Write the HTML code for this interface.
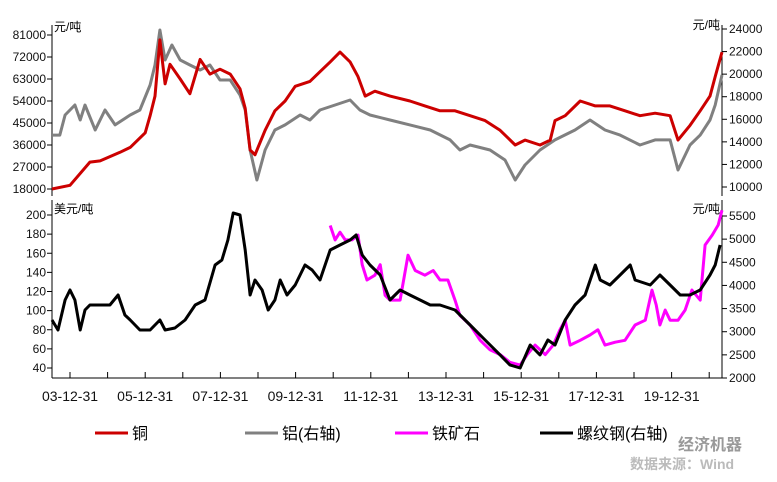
<!DOCTYPE html>
<html><head><meta charset="utf-8"><style>
body{margin:0;background:#fff;}
svg text{font-family:"Liberation Sans","Noto Sans CJK SC",sans-serif;}
</style></head><body>
<svg id="c" width="777" height="477" viewBox="0 0 777 477" xmlns="http://www.w3.org/2000/svg"></svg>
<script>
const cuDates=[2003.52,2004.0,2004.53,2004.8,2005.33,2005.6,2006.0,2006.13,2006.26,2006.39,2006.53,2006.66,2006.93,2007.19,2007.46,2007.72,2007.99,2008.26,2008.52,2008.66,2008.79,2008.92,2009.19,2009.45,2009.72,2009.99,2010.38,2010.65,2010.92,2011.18,2011.45,2011.66,2011.85,2012.11,2012.51,2013.04,2013.44,2013.84,2014.24,2014.64,2015.04,2015.44,2015.84,2016.1,2016.5,2016.77,2016.9,2017.17,2017.57,2017.97,2018.36,2018.76,2019.16,2019.56,2019.96,2020.17,2020.49,2020.76,2021.02,2021.16,2021.34];
const cuValues=[18000,19500,29000,29500,33000,35000,41000,48000,56000,79000,61000,69000,63000,57000,71000,65000,67000,65000,59000,51000,34000,32000,42000,50000,54000,60000,62000,66000,70000,74000,70000,64000,56000,58000,56000,54000,52000,50000,50000,48000,46000,42000,36000,38000,36000,38000,46000,48000,54000,52000,52000,50000,48000,49000,48000,38000,44000,50000,56000,64000,74000];
const alDates=[2003.52,2003.73,2003.87,2004.13,2004.27,2004.4,2004.67,2004.93,2005.2,2005.6,2005.86,2006.13,2006.26,2006.39,2006.53,2006.71,2006.93,2007.19,2007.46,2007.72,2007.99,2008.26,2008.52,2008.66,2008.79,2008.97,2009.19,2009.45,2009.72,2010.12,2010.38,2010.65,2011.05,2011.45,2011.71,2011.98,2012.51,2013.04,2013.58,2014.11,2014.37,2014.64,2015.17,2015.57,2015.84,2016.1,2016.5,2016.9,2017.43,2017.83,2018.23,2018.63,2019.16,2019.56,2019.96,2020.17,2020.49,2020.76,2021.02,2021.16,2021.34];
const alValues=[14600,14600,16380,17270,15940,17270,15050,16820,15500,16380,16820,19040,20810,23910,21250,22580,21250,20810,20370,20810,19480,19480,18150,16820,13280,10620,13280,15050,15500,16380,15940,16820,17270,17710,16820,16380,15940,15500,15050,14170,13280,13720,13280,12390,10620,11950,13280,14170,15050,15940,15050,14600,13720,14170,14170,11510,13720,14600,15940,17270,19920];
const oreDates=[2010.92,2011.05,2011.18,2011.32,2011.5,2011.66,2011.77,2011.9,2012.11,2012.25,2012.38,2012.51,2012.78,2012.99,2013.18,2013.44,2013.66,2013.84,2014.05,2014.24,2014.37,2014.64,2014.91,2015.17,2015.44,2015.7,2015.97,2016.16,2016.37,2016.64,2016.85,2017.03,2017.17,2017.3,2017.57,2017.83,2018.04,2018.23,2018.5,2018.76,2019.03,2019.3,2019.48,2019.59,2019.69,2019.83,2019.96,2020.17,2020.36,2020.54,2020.76,2020.89,2021.08,2021.24,2021.34];
const oreValues=[189,174,182,174,174,179,148,132,137,148,116,111,111,158,142,137,142,132,132,111,95,85,69,59,54,46,43,54,64,54,64,80,90,64,69,74.5,80,64,67,69,85,90,121.5,106,85,100.6,90,90,100.6,121.5,111,168.6,179,189.5,205];
const rebarDates=[2003.52,2003.68,2003.87,2004.0,2004.13,2004.27,2004.4,2004.53,2004.8,2005.06,2005.28,2005.46,2005.6,2005.86,2006.13,2006.39,2006.53,2006.79,2007.06,2007.33,2007.59,2007.86,2008.04,2008.2,2008.34,2008.52,2008.66,2008.79,2008.92,2009.11,2009.27,2009.45,2009.59,2009.77,2009.99,2010.25,2010.44,2010.65,2010.92,2011.18,2011.45,2011.61,2011.77,2011.98,2012.25,2012.51,2012.78,2013.04,2013.31,2013.58,2013.84,2014.24,2014.64,2015.04,2015.44,2015.7,2015.97,2016.24,2016.5,2016.71,2016.9,2017.17,2017.43,2017.7,2017.97,2018.1,2018.36,2018.63,2018.9,2019.03,2019.43,2019.69,2019.96,2020.23,2020.49,2020.76,2021.02,2021.16,2021.29];
const rebarValues=[3254,3038,3686,3902,3686,3038,3470,3578,3578,3578,3794,3362,3254,3038,3038,3254,3038,3081,3254,3578,3686,4442,4550,4982,5565,5522,4766,3794,4118,3902,3470,3686,4118,3794,4010,4442,4334,4118,4766,4874,4982,5090,4658,4442,4226,3686,3902,3794,3686,3578,3578,3470,3146,2822,2498,2282,2217,2714,2498,2822,2714,3254,3578,3794,4442,4118,4010,4226,4442,4118,4010,4226,4010,3794,3794,3902,4226,4442,4874];
const leftTopTicks=[18000,27000,36000,45000,54000,63000,72000,81000];
const rightTopTicks=[10000,12000,14000,16000,18000,20000,22000,24000];
const leftBotTicks=[40,60,80,100,120,140,160,180,200];
const rightBotTicks=[2000,2500,3000,3500,4000,4500,5000,5500];
const xLabelYears=[2004,2006,2008,2010,2012,2014,2016,2018,2020];
const xLabels=["03-12-31","05-12-31","07-12-31","09-12-31","11-12-31","13-12-31","15-12-31","17-12-31","19-12-31"];

const NS="http://www.w3.org/2000/svg",svg=document.getElementById('c');
function el(t,a,p){const e=document.createElementNS(NS,t);for(const k in a)e.setAttribute(k,a[k]);(p||svg).appendChild(e);return e;}
const X0=52,X1=722;
const xs=y=>70+(y-2004)*37.6;
const lin=(d0,d1,p0,p1)=>v=>p0+(v-d0)*(p1-p0)/(d1-d0);
const yCu=lin(18000,81000,189,35), yAl=lin(10000,24000,187,29);
const yOre=lin(40,200,368,215), yRb=lin(2000,5500,378,216);
function axis(x,dir,ticks,sc,name){
  const g=el('g',{});
  ticks.forEach(t=>{const y=sc(t);el('line',{x1:x,x2:x+dir*5,y1:y,y2:y,stroke:'#000'},g);
    const tx=el('text',{x:dir<0?x-6:x+7,y:y+4,'font-size':12,'text-anchor':dir<0?'end':'start',fill:'#111'},g);tx.textContent=t;});
}
el('line',{x1:X0,x2:X0,y1:25,y2:196,stroke:'#000'});
el('line',{x1:X0,x2:X0,y1:200,y2:378,stroke:'#000'});
el('line',{x1:X1,x2:X1,y1:25,y2:196,stroke:'#000'});
el('line',{x1:X1,x2:X1,y1:200,y2:378,stroke:'#000'});
el('line',{x1:X0,x2:X1,y1:378,y2:378,stroke:'#000'});
axis(X0,-1,leftTopTicks,yCu,'left-top-axis');
axis(X1,1,rightTopTicks,yAl,'right-top-axis');
axis(X0,-1,leftBotTicks,yOre,'left-bottom-axis');
axis(X1,1,rightBotTicks,yRb,'right-bottom-axis');
[[54,31,'start','元/吨','left-top-unit'],[720,29,'end','元/吨','right-top-unit'],[54,213,'start','美元/吨','left-bottom-unit'],[720,213,'end','元/吨','right-bottom-unit']].forEach(u=>{
  const t=el('text',{x:u[0],y:u[1],'font-size':12,'text-anchor':u[2],fill:'#000'});t.textContent=u[3];
  });
for(let yr=2004;yr<=2021;yr++){const x=xs(yr);el('line',{x1:x,x2:x,y1:378,y2:372,stroke:'#000'});}
xLabelYears.forEach((yr,i)=>{const t=el('text',{x:xs(yr),y:401,'font-size':14,'text-anchor':'middle',fill:'#111'});t.textContent=xLabels[i];
  });
function series(d,v,sc,col,name){
  const p=d.map((t,i)=>(i?'L':'M')+xs(t).toFixed(1)+','+sc(v[i]).toFixed(1)).join('');
  const e=el('path',{d:p,fill:'none',stroke:col,'stroke-width':3,'stroke-linejoin':'round'});
  
}
series(alDates,alValues,yAl,'#808080','aluminum-line');
series(cuDates,cuValues,yCu,'#cc0000','copper-line');
series(oreDates,oreValues,yOre,'#ff00ff','iron-ore-line');
series(rebarDates,rebarValues,yRb,'#000000','rebar-line');
[[95,'#cc0000','铜','legend-copper'],[245,'#808080','铝(右轴)','legend-aluminum'],[395,'#ff00ff','铁矿石','legend-iron-ore'],[540,'#000000','螺纹钢(右轴)','legend-rebar']].forEach(l=>{
  const g=el('g',{});
  el('line',{x1:l[0],x2:l[0]+33,y1:433,y2:433,stroke:l[1],'stroke-width':3},g);
  const t=el('text',{x:l[0]+37,y:439,'font-size':16,fill:'#000'},g);t.textContent=l[2];});
const w1=el('text',{x:678,y:450,'font-size':16,fill:'#999','font-weight':'bold'});w1.textContent='经济机器';

const w2=el('text',{x:630,y:469,'font-size':14,fill:'#bbb','font-weight':'bold'});w2.textContent='数据来源：Wind';

</script>
</body></html>
